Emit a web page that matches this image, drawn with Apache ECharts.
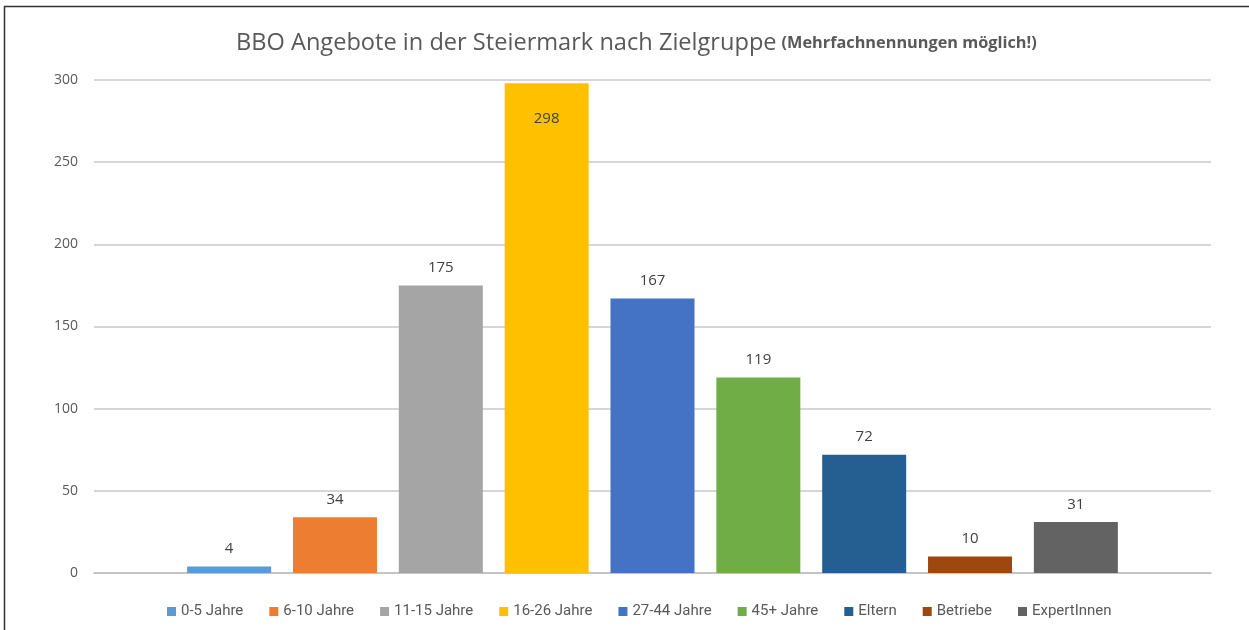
<!DOCTYPE html>
<html><head><meta charset="utf-8">
<script src="https://cdn.jsdelivr.net/npm/echarts@6/dist/echarts.min.js"></script>
<style>html,body{margin:0;padding:0;background:#fff}#c{width:1249px;height:630px}</style>
</head><body><div id="c"></div>
<script>
const seriesNames = ['0-5 Jahre','6-10 Jahre','11-15 Jahre','16-26 Jahre','27-44 Jahre','45+ Jahre','Eltern','Betriebe','ExpertInnen'];
const values = [4,34,175,298,167,119,72,10,31];
const colors = ['#5B9BD5','#ED7D31','#A5A5A5','#FFC000','#4472C4','#70AD47','#255E91','#9E480E','#636363'];
const yTicks = [0,50,100,150,200,250,300];

const chart = echarts.init(document.getElementById('c'));
const series = seriesNames.map((n,i)=>({
  name:n, type:'bar', data:[values[i]], barWidth:84, barGap:'26%',
  itemStyle:{color:colors[i]},
  label:{show:true, position: values[i] > 280 ? 'insideTop' : 'top', distance: values[i] > 280 ? 28 : 10,
    color:'#404040', fontSize:15, fontFamily:'Open Sans, sans-serif'}
}));
chart.setOption({
  animation:false,
  title:{text:'{a|BBO Angebote in der Steiermark nach Zielgruppe} {b|(Mehrfachnennungen möglich!)}',
    left:231, top:26,
    textStyle:{fontWeight:'normal', rich:{
      a:{fontSize:23.6,fontWeight:'normal',color:'#595959',fontFamily:'Open Sans, sans-serif'},
      b:{fontSize:16.3,fontWeight:'bold',color:'#595959',fontFamily:'Open Sans, sans-serif'}}}},
  legend:{bottom:6, left:162, itemWidth:9, itemHeight:9, itemGap:26, icon:'rect',
    textStyle:{color:'#595959', fontSize:15, fontFamily:'Liberation Sans Narrow, Roboto, sans-serif'},
    data:seriesNames},
  grid:{left:94, right:38, top:80, bottom:57},
  xAxis:{type:'category', data:[''], axisLine:{lineStyle:{color:'#BFBFBF',width:1.5}}, axisTick:{show:false}, axisLabel:{show:false}},
  yAxis:{type:'value', min:yTicks[0], max:yTicks[yTicks.length-1], interval:50,
    axisLine:{show:false}, axisTick:{show:false},
    axisLabel:{color:'#595959', fontSize:14, margin:16, fontFamily:'Open Sans, sans-serif'},
    splitLine:{lineStyle:{color:'#C8C8C8', width:1.5}}},
  series:series,
  graphic:[
    {type:'line', shape:{x1:4, y1:6.5, x2:1249, y2:6.5}, style:{stroke:'#333', lineWidth:1.5}},
    {type:'line', shape:{x1:4.5, y1:6, x2:4.5, y2:630}, style:{stroke:'#333', lineWidth:1.5}}
  ]
});
</script></body></html>
